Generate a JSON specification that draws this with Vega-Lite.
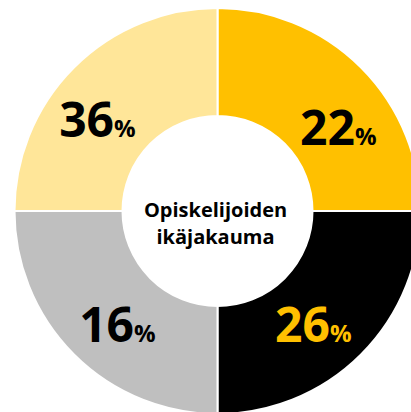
{
  "$schema": "https://vega.github.io/schema/vega-lite/v6.json",
  "width": 411,
  "height": 412,
  "autosize": {"type": "fit", "contains": "padding"},
  "padding": {"left": 24, "top": 10, "right": 0, "bottom": 0},
  "background": "white",
  "view": {"stroke": null},
  "data": {
    "values": [
      {"label": "22", "pct": 22, "share": 25, "order": 1},
      {"label": "26", "pct": 26, "share": 25, "order": 2},
      {"label": "16", "pct": 16, "share": 25, "order": 3},
      {"label": "36", "pct": 36, "share": 25, "order": 4}
    ]
  },
  "encoding": {
    "theta": {"field": "share", "type": "quantitative", "stack": true},
    "order": {"field": "order", "type": "quantitative"}
  },
  "layer": [
    {
      "mark": {"type": "arc", "radius": 203, "radius2": 95, "stroke": "white", "strokeWidth": 2},
      "encoding": {
        "color": {
          "field": "label",
          "type": "nominal",
          "scale": {"domain": ["22", "26", "16", "36"], "range": ["#FFC000", "#000000", "#BFBFBF", "#FFE699"]},
          "legend": null
        }
      }
    },
    {"mark": {"type": "text", "radius": 150, "align": "right", "baseline": "alphabetic", "dx": 2.6, "dy": 32, "font": "Open Sans", "fontWeight": "bold", "fontSize": 48, "color": "#000000"},
     "encoding": {"text": {"condition": {"test": "datum.label == '36'", "field": "label"}, "value": ""}}},
    {"mark": {"type": "text", "radius": 150, "align": "left", "baseline": "alphabetic", "dx": 2.6, "dy": 32, "font": "Open Sans", "fontWeight": "bold", "fontSize": 24, "color": "#000000"},
     "encoding": {"text": {"condition": {"test": "datum.label == '36'", "value": "%"}, "value": ""}}},
    {"mark": {"type": "text", "radius": 150, "align": "right", "baseline": "alphabetic", "dx": 31.4, "dy": 40, "font": "Open Sans", "fontWeight": "bold", "fontSize": 48, "color": "#000000"},
     "encoding": {"text": {"condition": {"test": "datum.label == '22'", "field": "label"}, "value": ""}}},
    {"mark": {"type": "text", "radius": 150, "align": "left", "baseline": "alphabetic", "dx": 31.4, "dy": 40, "font": "Open Sans", "fontWeight": "bold", "fontSize": 24, "color": "#000000"},
     "encoding": {"text": {"condition": {"test": "datum.label == '22'", "value": "%"}, "value": ""}}},
    {"mark": {"type": "text", "radius": 150, "align": "right", "baseline": "alphabetic", "dx": 22.6, "dy": 25, "font": "Open Sans", "fontWeight": "bold", "fontSize": 48, "color": "#000000"},
     "encoding": {"text": {"condition": {"test": "datum.label == '16'", "field": "label"}, "value": ""}}},
    {"mark": {"type": "text", "radius": 150, "align": "left", "baseline": "alphabetic", "dx": 22.6, "dy": 25, "font": "Open Sans", "fontWeight": "bold", "fontSize": 24, "color": "#000000"},
     "encoding": {"text": {"condition": {"test": "datum.label == '16'", "value": "%"}, "value": ""}}},
    {"mark": {"type": "text", "radius": 150, "align": "right", "baseline": "alphabetic", "dx": 6.4, "dy": 25, "font": "Open Sans", "fontWeight": "bold", "fontSize": 48, "color": "#FFC000"},
     "encoding": {"text": {"condition": {"test": "datum.label == '26'", "field": "label"}, "value": ""}}},
    {"mark": {"type": "text", "radius": 150, "align": "left", "baseline": "alphabetic", "dx": 6.4, "dy": 25, "font": "Open Sans", "fontWeight": "bold", "fontSize": 24, "color": "#FFC000"},
     "encoding": {"text": {"condition": {"test": "datum.label == '26'", "value": "%"}, "value": ""}}},
    {
      "data": {"values": [{"title": "Opiskelijoiden\nikäjakauma"}]},
      "mark": {"type": "text", "align": "center", "baseline": "middle", "lineBreak": "\n", "lineHeight": 27, "font": "Open Sans", "fontWeight": "bold", "fontSize": 20, "color": "#000000", "dx": -2},
      "encoding": {"text": {"field": "title"}, "theta": null, "order": null}
    }
  ]
}
